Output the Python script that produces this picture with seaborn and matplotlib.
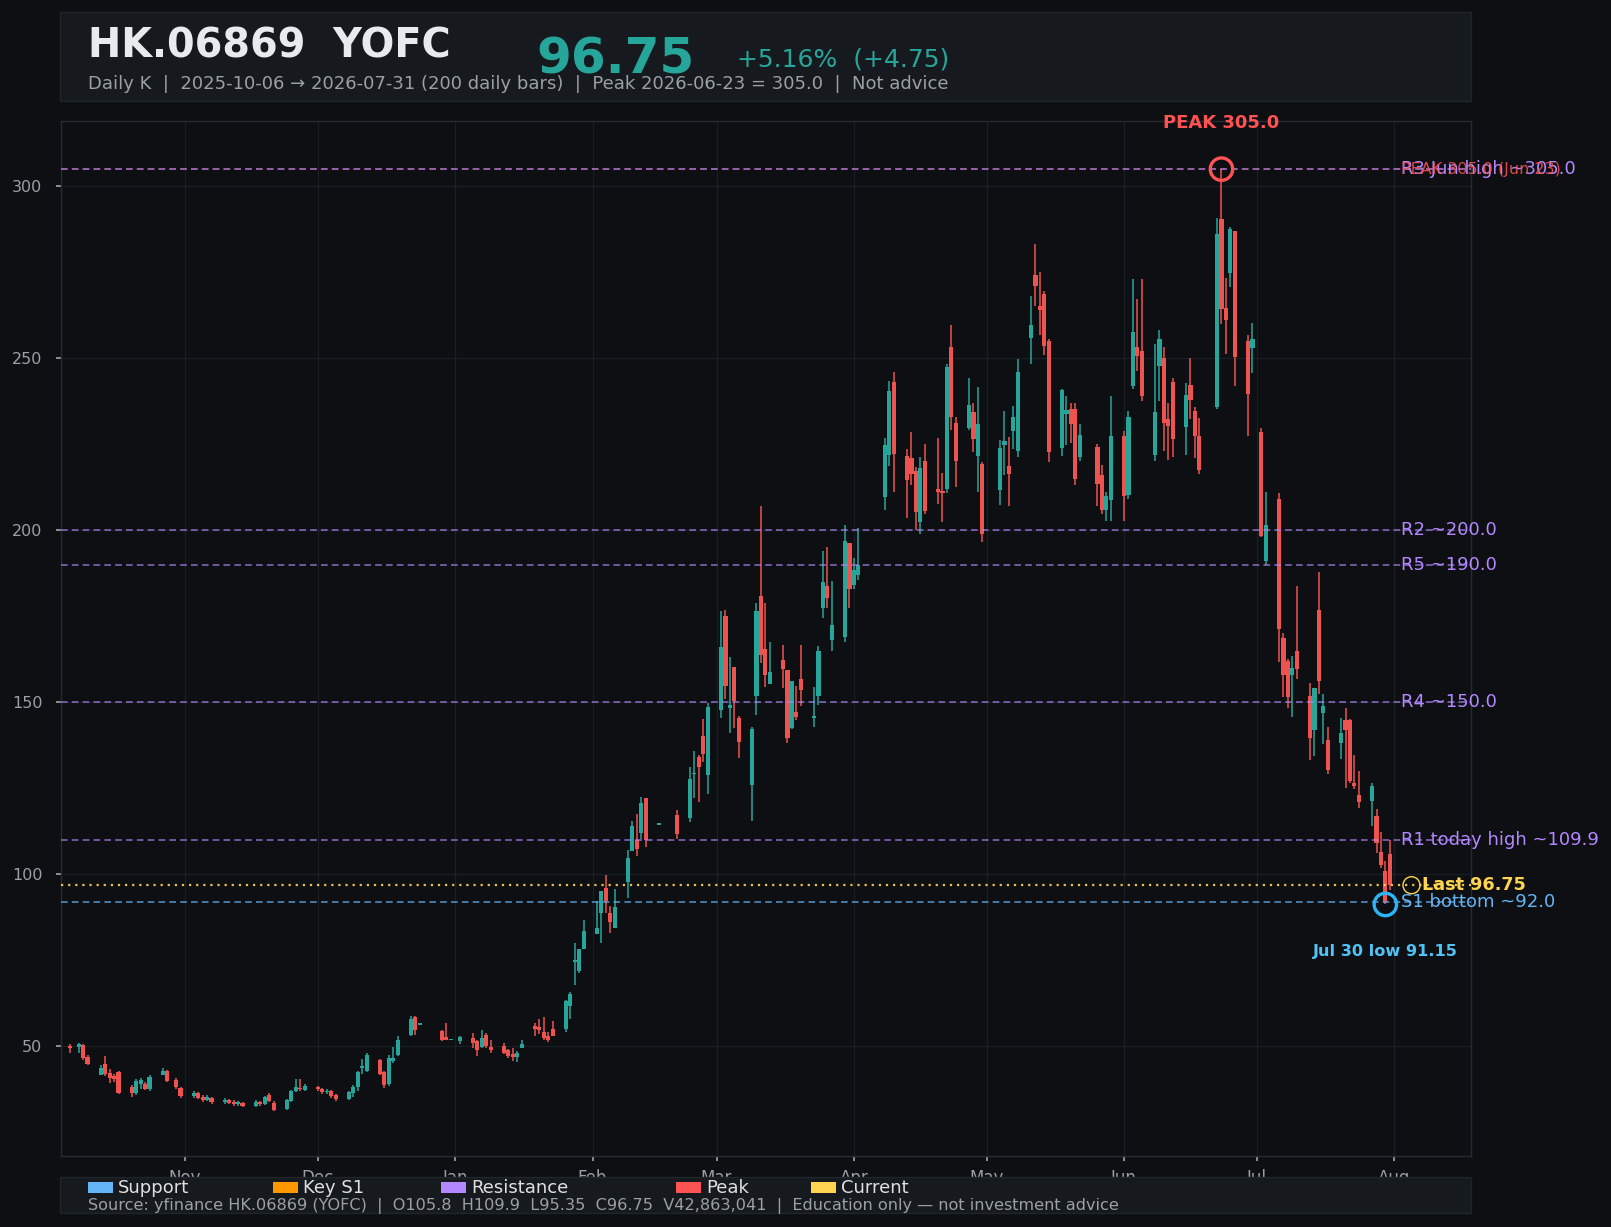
import numpy as np
import pandas as pd
import matplotlib
matplotlib.use("Agg")
import matplotlib.pyplot as plt
import matplotlib.dates as mdates
from matplotlib.patches import Rectangle
import seaborn as sns

# ---------------- data ----------------
holidays = ["2025-10-07", "2025-10-29", "2025-12-25", "2025-12-26", "2026-01-01",
            "2026-02-17", "2026-02-18", "2026-02-19", "2026-04-03", "2026-04-06",
            "2026-04-07", "2026-05-01", "2026-05-25", "2026-06-19", "2026-07-01"]
dates = pd.bdate_range("2025-10-06", "2026-07-31")
dates = dates[~dates.isin(pd.to_datetime(holidays))]

open_ = [50.0, 49.8, 50.2, 46.9, 41.6, 44.8, 42.0, 41.3, 42.4, 38.0, 36.3, 39.0, 39.0, 37.6, 41.6, 42.7, 40.1, 37.7,
         35.5, 36.2, 35.2, 34.3, 35.0, 33.6, 34.4, 33.6, 33.0, 33.5, 32.6, 33.8, 33.1, 35.6, 33.5, 31.8, 34.0, 36.9, 37.9, 37.3,
         37.8, 37.4, 36.5, 37.0, 35.6, 34.6, 36.4, 38.2, 43.6, 42.8, 45.8, 42.3, 38.8, 45.5, 47.5, 53.3, 58.5, 56.2, 54.3, 52.7, 51.7,
         51.5, 52.3, 51.4, 49.8, 53.1, 49.8, 50.1, 48.9, 47.8, 46.7, 49.3, 55.9, 55.6, 54.0, 53.0, 54.9, 54.8, 61.5, 74.5, 71.7, 78.3,
         82.7, 88.6, 95.8, 88.8, 84.2, 97.7, 106.7, 109.9, 111.8, 122.2, 114.3, 117.2, 116.2, 129.0, 133.9, 140.0, 128.8,
         147.7, 174.9, 148.2, 160.1, 145.5, 126.0, 151.7, 181.0, 165.5, 155.2, 162.3, 159.4, 142.6, 147.0, 156.8, 145.4, 151.8,
         177.5, 183.9, 168.2, 168.9, 196.4,
         184.0, 187.0, 209.6, 221.8, 243.1, 221.5, 220.9, 217.1, 202.5, 220.0, 212.1, 211.5, 212.0, 253.3, 231.1, 229.6, 234.3,
         221.7, 219.2,
         211.7, 224.7, 218.6, 228.8, 223.0, 255.9, 274.1, 265.1, 268.6, 254.9, 223.9, 233.8, 235.3, 235.3, 221.3, 224.1, 216.0,
         206.0, 208.9,
         227.3, 210.1, 241.9, 253.2, 252.0, 222.0, 247.7, 250.1, 232.2, 243.0, 229.9, 242.3, 234.7, 227.5, 235.7, 290.4, 264.5,
         274.9, 286.9, 255.0, 253.1,
         228.6, 191.0, 209.2, 168.7, 162.1, 157.9, 165.0, 151.9, 141.8, 176.9, 146.8, 138.9, 138.1, 144.7, 144.9, 126.4, 123.0,
         121.2, 117.0, 106.4, 100.8, 105.8]
high = [50.5, 51.0, 50.5, 47.3, 44.5, 47.1, 43.2, 41.9, 42.6, 38.6, 40.5, 40.8, 39.5, 41.5, 43.7, 43.0, 40.8, 38.2,
        36.8, 36.6, 35.6, 35.6, 35.3, 34.9, 34.7, 34.3, 34.0, 33.8, 34.2, 34.1, 35.5, 36.3, 33.9, 34.6, 37.2, 40.3, 40.3, 38.8,
        38.3, 37.8, 37.4, 37.3, 35.9, 36.8, 38.6, 42.6, 46.1, 48.1, 46.1, 42.8, 47.5, 49.8, 53.0, 58.8, 58.6, 56.6, 54.5, 56.6, 51.9,
        52.9, 53.7, 51.6, 54.7, 53.7, 51.6, 50.8, 49.1, 49.3, 48.6, 51.8, 56.6, 57.9, 58.3, 54.2, 57.4, 63.4, 65.6, 79.8, 78.3, 86.7,
        92.2, 95.0, 99.7, 90.8, 95.6, 106.9, 115.5, 117.6, 122.3, 122.2, 114.6, 118.7, 131.0, 135.9, 134.7, 145.0, 149.8,
        176.5, 176.9, 163.0, 160.1, 145.9, 142.9, 178.7, 207.0, 178.9, 167.6, 166.7, 159.4, 156.2, 154.8, 166.5, 154.3, 166.2,
        194.0, 195.0, 185.3, 201.5, 196.4,
        192.0, 200.5, 226.8, 243.4, 246.0, 223.6, 228.5, 218.4, 221.2, 225.1, 226.8, 216.6, 248.4, 259.7, 233.0, 244.4, 237.0,
        241.6, 219.8,
        226.2, 234.6, 227.0, 236.1, 249.9, 268.1, 283.2, 275.1, 269.7, 255.6, 241.1, 239.0, 237.0, 237.0, 230.9, 225.1, 218.9,
        211.1, 239.0,
        228.8, 234.8, 273.1, 267.2, 273.1, 254.2, 258.2, 253.3, 237.0, 244.3, 242.7, 250.2, 235.7, 232.5, 290.8, 305.0, 273.4,
        288.2, 286.9, 256.7, 260.3,
        229.6, 211.0, 210.7, 170.2, 162.6, 163.5, 183.8, 155.5, 154.1, 187.9, 152.3, 142.8, 145.4, 148.3, 145.0, 134.7, 130.1,
        126.5, 119.0, 112.1, 103.7, 109.9]
low = [48.0, 48.0, 45.9, 44.4, 41.5, 41.3, 39.3, 39.5, 36.0, 35.2, 35.8, 37.6, 37.2, 37.0, 41.5, 39.5, 37.6, 35.0,
       34.8, 34.6, 33.8, 33.9, 33.2, 33.1, 33.2, 32.6, 32.5, 32.2, 32.3, 32.6, 32.8, 33.6, 31.0, 31.4, 33.6, 36.5, 36.8, 36.8,
       36.9, 36.1, 36.0, 35.0, 34.1, 34.3, 35.2, 37.0, 41.8, 42.5, 41.6, 37.8, 38.3, 45.0, 47.2, 53.0, 53.3, 56.1, 51.3, 51.6, 51.6,
       50.5, 49.3, 47.2, 49.4, 49.4, 47.9, 47.6, 46.4, 45.7, 45.4, 49.3, 52.8, 53.5, 51.7, 51.1, 52.8, 54.0, 57.8, 67.8, 71.3, 78.3,
       82.7, 79.8, 88.8, 82.9, 84.2, 93.0, 106.7, 105.2, 110.1, 107.8, 114.2, 110.1, 115.2, 122.0, 121.0, 132.6, 123.3,
       145.4, 150.8, 140.9, 142.6, 133.7, 115.5, 146.3, 161.3, 154.4, 155.2, 154.1, 138.1, 142.2, 144.7, 148.9, 142.7, 149.2,
       174.6, 177.5, 165.0, 167.6, 177.5,
       183.0, 185.5, 205.9, 218.6, 211.0, 203.5, 213.0, 200.1, 198.8, 204.7, 207.6, 202.5, 210.8, 229.1, 212.5, 229.1, 222.7,
       211.0, 196.7,
       207.2, 216.0, 206.9, 223.6, 221.3, 248.2, 265.1, 256.7, 250.9, 219.9, 221.7, 224.7, 225.4, 213.1, 220.1, 207.0, 204.7,
       202.6, 202.6,
       202.6, 209.1, 241.1, 246.4, 237.7, 220.1, 237.5, 223.0, 220.5, 221.2, 222.0, 232.3, 220.9, 216.2, 235.1, 260.1, 251.2,
       270.8, 242.0, 227.3, 245.6,
       198.0, 189.8, 161.6, 151.6, 148.3, 145.6, 156.7, 133.3, 134.3, 152.4, 137.8, 129.2, 133.6, 125.1, 126.6, 124.6, 119.3,
       114.0, 106.2, 101.9, 91.15, 95.35]
close = [49.5, 50.7, 46.6, 44.7, 43.6, 41.8, 40.8, 40.5, 36.3, 36.2, 39.8, 40.0, 37.4, 41.1, 42.7, 39.8, 38.1, 35.5,
         36.3, 35.0, 34.2, 35.2, 33.6, 34.4, 33.5, 33.0, 33.6, 32.6, 33.8, 33.0, 35.2, 34.0, 31.5, 34.2, 36.8, 38.1, 37.4, 38.5,
         37.5, 36.5, 37.0, 35.4, 34.5, 36.5, 38.2, 42.3, 44.0, 47.5, 41.8, 38.6, 46.5, 46.4, 51.8, 57.7, 54.5, 56.4, 51.8, 51.8, 51.8,
         52.5, 51.0, 48.9, 52.3, 50.1, 48.8, 48.0, 47.2, 46.7, 47.9, 50.7, 54.8, 54.5, 52.2, 51.7, 53.0, 63.0, 65.0, 75.0, 78.2, 83.5,
         84.4, 95.0, 92.2, 86.1, 90.5, 104.6, 114.0, 107.4, 120.8, 109.9, 114.5, 111.6, 127.7, 129.5, 131.1, 134.9, 148.6,
         165.9, 154.6, 149.2, 150.2, 138.4, 142.1, 176.5, 163.7, 157.9, 158.9, 159.6, 139.7, 156.2, 145.6, 153.4, 145.9, 164.9,
         185.0, 180.2, 172.3, 197.0, 182.8,
         188.5, 190.0, 224.7, 240.5, 222.2, 214.5, 216.3, 205.3, 218.0, 205.7, 211.2, 210.8, 247.5, 233.0, 220.0, 236.4, 226.6,
         230.8, 198.8,
         223.9, 225.9, 216.3, 232.9, 246.0, 259.6, 270.9, 263.9, 253.6, 222.8, 240.7, 234.9, 230.9, 214.9, 227.6, 213.5, 206.0,
         209.9, 227.3,
         209.9, 232.8, 257.6, 250.6, 239.0, 234.3, 255.5, 231.2, 230.2, 226.6, 239.4, 238.0, 227.3, 217.6, 286.0, 264.4, 261.2,
         287.7, 250.5, 239.5, 255.5,
         198.3, 201.4, 171.2, 157.9, 151.6, 160.0, 159.6, 139.6, 154.1, 156.0, 148.8, 130.2, 140.9, 141.8, 127.0, 125.6, 121.0,
         125.5, 109.1, 102.7, 92.0, 96.75]

df = pd.DataFrame({"date": dates, "open": open_, "high": high, "low": low, "close": close})

level_names = ["R3 Jun high ~305.0", "R2 ~200.0", "R5 ~190.0", "R4 ~150.0", "R1 today high ~109.9"]
level_values = [305.0, 200.0, 190.0, 150.0, 109.9]
support_name, support_value = "S1 bottom ~92.0", 92.0
last_price = 96.75
peak_date, peak_value = "2026-06-23", 305.0
low_date, low_value = "2026-07-30", 91.15

legend_names = ["Support", "Key S1", "Resistance", "Peak", "Current"]

# ---------------- style ----------------
BG = "#0d0f12"
AX_BG = "#0d0f12"
PANEL = "#161a1f"
GRID = "#1b1f25"
TICK = "#9aa0a6"
UP = "#26a69a"
DOWN = "#ef5350"
PURPLE = "#b388ff"
BLUE = "#64b5f6"
YELLOW = "#ffd54f"
RED = "#ff5252"
ORANGE = "#ff9800"
LOWBLUE = "#4fc3f7"

sns.set_theme(style="darkgrid", rc={
    "axes.facecolor": AX_BG, "figure.facecolor": BG, "grid.color": GRID,
    "axes.edgecolor": "#262a31", "xtick.color": TICK, "ytick.color": TICK,
    "text.color": "#e8eaed", "axes.labelcolor": TICK})
plt.rcParams["font.family"] = ["DejaVu Sans"]

W, H = 1611, 1227
fig = plt.figure(figsize=(W / 100, H / 100), dpi=100, facecolor=BG)


def fx(px):
    return px / W


def fy(py):
    return 1 - py / H


ax = fig.add_axes([fx(61), fy(1156), fx(1471) - fx(61), fy(121) - fy(1156)])
ax.set_facecolor(AX_BG)

x = mdates.date2num(df["date"])
up = df["close"].values >= df["open"].values
cols = np.where(up, UP, DOWN)
ax.vlines(x, df["low"], df["high"], colors=cols, linewidth=1.1, zorder=3)
body_lo = np.minimum(df["open"], df["close"])
body_h = np.maximum(np.abs(df["close"] - df["open"]), 0.45)
ax.bar(x, body_h, bottom=body_lo, width=0.95, color=cols, linewidth=0, zorder=4)

# level lines
ax.axhline(peak_value, color=RED, lw=1.2, ls=(0, (4, 2.5)), alpha=0.45, zorder=5)
for v in level_values:
    ax.axhline(v, color=PURPLE, lw=1.2, ls=(0, (4, 2.5)), alpha=0.7, zorder=5)
ax.axhline(support_value, color=BLUE, lw=1.2, ls=(0, (4, 2.5)), alpha=0.75, zorder=5)
ax.axhline(last_price, color=YELLOW, lw=1.6, ls=(0, (1, 2.2)), alpha=0.9, zorder=5)

last_x = x[-1]
lab_x = last_x + 2.6
for name, v in zip(level_names, level_values):
    ax.text(lab_x, v, name, color=PURPLE, fontsize=13, va="center", ha="left", clip_on=False, zorder=7)
ax.text(lab_x, peak_value, "PEAK 305.0 (Jun 23)", color=RED, fontsize=11.5, va="center", ha="left",
        clip_on=False, alpha=0.85, zorder=7)
ax.text(lab_x, support_value, support_name, color=BLUE, fontsize=13, va="center", ha="left",
        clip_on=False, zorder=7)
ax.scatter([last_x + 4.9], [last_price], s=150, facecolors="none", edgecolors=YELLOW, linewidths=1.0,
           zorder=7, clip_on=False)
ax.text(last_x + 7.2, last_price, "Last 96.75", color=YELLOW, fontsize=12.7, fontweight="bold",
        va="center", ha="left", clip_on=False, zorder=7)

# peak & low markers
pk = mdates.date2num(pd.Timestamp(peak_date))
lw_ = mdates.date2num(pd.Timestamp(low_date))
mk = pd.DataFrame({"x": [pk, lw_], "y": [peak_value, low_value]})
sns.scatterplot(data=mk.iloc[[0]], x="x", y="y", s=260, marker="o", facecolors="none",
                edgecolor=RED, linewidth=2.4, ax=ax, zorder=8, legend=False)
sns.scatterplot(data=mk.iloc[[1]], x="x", y="y", s=260, marker="o", facecolors="none",
                edgecolor="#29b6f6", linewidth=2.4, ax=ax, zorder=8, legend=False)
ax.annotate("PEAK 305.0", xy=(pk, peak_value), xytext=(0, 33), textcoords="offset points",
            ha="center", va="center", color=RED, fontsize=13, fontweight="bold", annotation_clip=False)
ax.annotate("Jul 30 low 91.15", xy=(lw_, low_value), xytext=(0, -34), textcoords="offset points",
            ha="center", va="center", color=LOWBLUE, fontsize=11.6, fontweight="bold", annotation_clip=False)

# axes
ax.set_xlim(mdates.date2num(pd.Timestamp("2025-10-04")), mdates.date2num(pd.Timestamp("2026-08-18 08:00")))
ax.set_ylim(18, 319)
ax.set_yticks([50, 100, 150, 200, 250, 300])
ax.xaxis.set_major_locator(mdates.MonthLocator())
ax.xaxis.set_major_formatter(mdates.DateFormatter("%b"))
ax.set_xlabel("")
ax.set_ylabel("")
ax.grid(True, color=GRID, lw=0.9)
ax.tick_params(axis="y", colors=TICK, labelsize=11.5, length=3.5, pad=10, left=True)
ax.tick_params(axis="x", colors=TICK, labelsize=12, length=3.5, pad=6, bottom=True)
for s in ax.spines.values():
    s.set_visible(True)
    s.set_color("#262a31")
    s.set_linewidth(1)

# header panel
fig.patches.append(Rectangle((fx(60), fy(101)), fx(1471) - fx(60), fy(12) - fy(101), transform=fig.transFigure,
                             facecolor=PANEL, edgecolor="#20252b", lw=1, zorder=1))
fig.text(fx(88), fy(57), "HK.06869  YOFC", fontsize=28.6, fontweight="bold", color="#e8eaed", va="baseline")
fig.text(fx(536), fy(74), "96.75", fontsize=36, fontweight="bold", color=UP, va="baseline")
fig.text(fx(737), fy(67), "+5.16%  (+4.75)", fontsize=18, color=UP, va="baseline")
fig.text(fx(88), fy(89), "Daily K  |  2025-10-06 \u2192 2026-07-31 (200 daily bars)  |  Peak 2026-06-23 = 305.0  |  Not advice",
         fontsize=13, color=TICK, va="baseline")

# footer panel
fig.patches.append(Rectangle((fx(60), fy(1213)), fx(1471) - fx(60), fy(1177) - fy(1213), transform=fig.transFigure,
                             facecolor=PANEL, edgecolor="#20252b", lw=1, zorder=5))
leg_colors = [BLUE, ORANGE, PURPLE, RED, YELLOW]
leg_x = [88, 273, 441, 676, 811]
for name, c, lx in zip(legend_names, leg_colors, leg_x):
    fig.patches.append(Rectangle((fx(lx), fy(1193)), fx(25), fy(1182) - fy(1193), transform=fig.transFigure,
                                 facecolor=c, edgecolor="none", zorder=6))
    fig.text(fx(lx + 30), fy(1193), name, fontsize=13, color="#e0e0e0", va="baseline", zorder=7)
fig.text(fx(88), fy(1210),
         "Source: yfinance HK.06869 (YOFC)  |  O105.8  H109.9  L95.35  C96.75  V42,863,041  |  Education only \u2014 not investment advice",
         fontsize=11.6, color=TICK, va="baseline", zorder=7)

fig.savefig("out.png", dpi=100, facecolor=BG)
